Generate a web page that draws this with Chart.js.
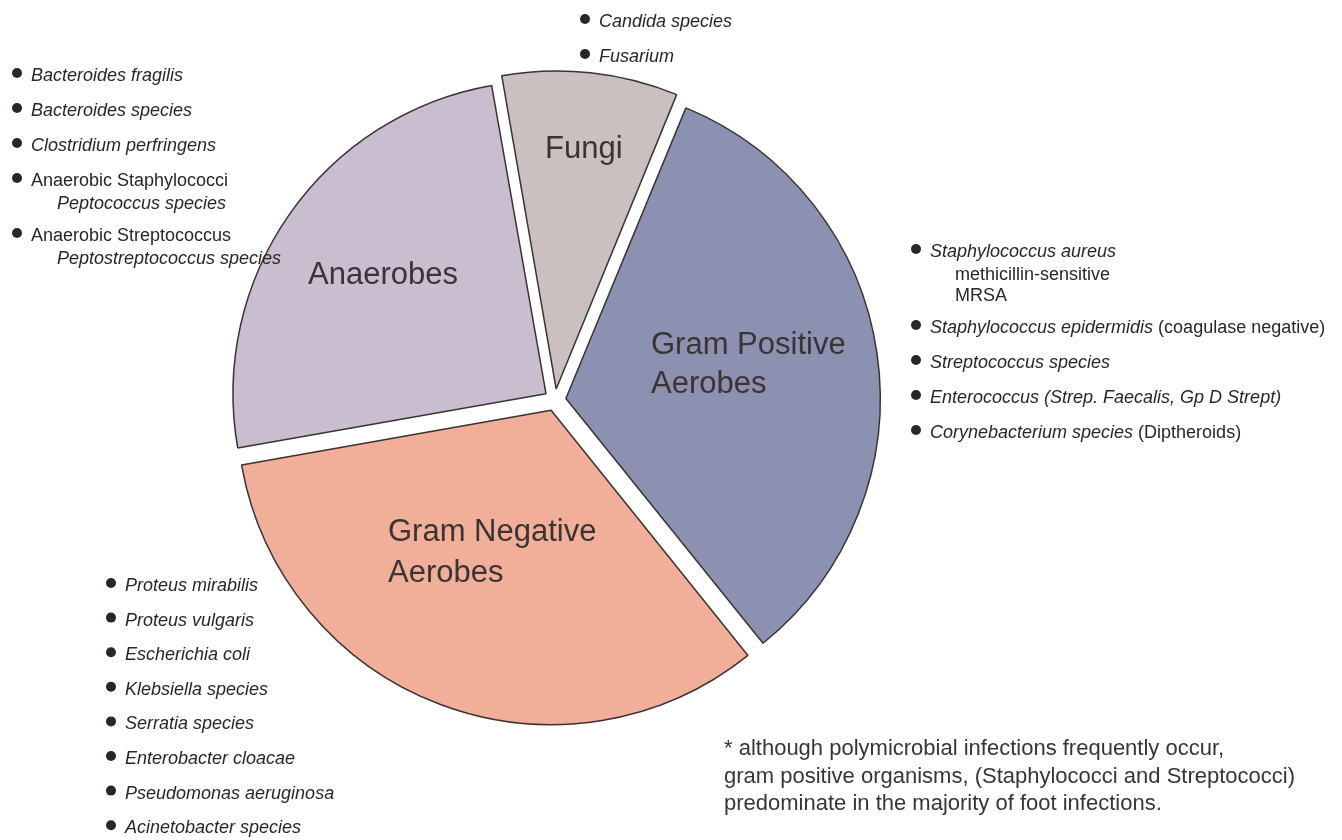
<!DOCTYPE html>
<html lang="en">
<head>
  <meta charset="UTF-8" />
  <title>Organisms in foot infections</title>
  <script src="https://cdn.jsdelivr.net/npm/chart.js"></script>
  <style>
    html, body { margin: 0; padding: 0; background: #fff; }
    #wrap { position: relative; width: 1342px; height: 840px; }
  </style>
</head>
<body>
  <div id="wrap"><canvas id="pie"></canvas></div>

  <script>
    const categories = ['Fungi', 'Gram Positive Aerobes', 'Gram Negative Aerobes', 'Anaerobes'];
    const shares = [9, 33, 33, 25];
    const sliceColors = ['#c9c0bf', '#8d91b1', '#f1ae98', '#c9bdd0'];

    // list lines: [text, italic]; first line of an item gets the bullet
    const fungiList = [
      [[['Candida species', 1]]],
      [[['Fusarium', 1]]]
    ];
    const anaerobeList = [
      [[['Bacteroides fragilis', 1]]],
      [[['Bacteroides species', 1]]],
      [[['Clostridium perfringens', 1]]],
      [[['Anaerobic Staphylococci', 0]], [['Peptococcus species', 1]]],
      [[['Anaerobic Streptococcus', 0]], [['Peptostreptococcus species', 1]]]
    ];
    const gramPosList = [
      [[['Staphylococcus aureus', 1]], [['methicillin-sensitive', 0]], [['MRSA', 0]]],
      [[['Staphylococcus epidermidis', 1], [' (coagulase negative)', 0]]],
      [[['Streptococcus species', 1]]],
      [[['Enterococcus (Strep. Faecalis, Gp D Strept)', 1]]],
      [[['Corynebacterium species', 1], [' (Diptheroids)', 0]]]
    ];
    const gramNegList = [
      [[['Proteus mirabilis', 1]]],
      [[['Proteus vulgaris', 1]]],
      [[['Escherichia coli', 1]]],
      [[['Klebsiella species', 1]]],
      [[['Serratia species', 1]]],
      [[['Enterobacter cloacae', 1]]],
      [[['Pseudomonas aeruginosa', 1]]],
      [[['Acinetobacter species', 1]]]
    ];
    const footnote = [
      '* although polymicrobial infections frequently occur,',
      'gram positive organisms, (Staphylococci and Streptococci)',
      'predominate in the majority of foot infections.'
    ];

    const FONT = '"Liberation Sans", Arial, sans-serif';
    const INK = '#3a3434';

    function drawParts(ctx, x, y, parts, size) {
      parts.forEach(([t, it]) => {
        ctx.font = (it ? 'italic ' : '') + size + 'px ' + FONT;
        ctx.fillText(t, x, y);
        x += ctx.measureText(t).width;
      });
    }

    function drawList(ctx, list, bx, tx, sx, y0, step) {
      let y = y0;
      list.forEach((item) => {
        item.forEach((line, j) => {
          if (j === 0) {
            ctx.beginPath();
            ctx.arc(bx, y - 8, 5, 0, Math.PI * 2);
            ctx.fill();
            drawParts(ctx, tx, y, line, 18);
          } else {
            y += j === 1 ? 23 : 21;
            drawParts(ctx, sx, y, line, 18);
          }
        });
        y += item.length > 1 ? 32 : step;
      });
    }

    const textPlugin = {
      id: 'notes',
      afterDraw(chart) {
        const ctx = chart.ctx;
        ctx.save();
        ctx.fillStyle = INK;
        ctx.textBaseline = 'alphabetic';
        ctx.textAlign = 'left';

        // slice labels
        ctx.font = '31px ' + FONT;
        ctx.fillText('Fungi', 545, 158);
        ctx.fillText('Anaerobes', 308, 284);
        ctx.fillText('Gram Positive', 651, 354);
        ctx.fillText('Aerobes', 651, 393);
        ctx.fillText('Gram Negative', 388, 541);
        ctx.fillText('Aerobes', 388, 582);

        // organism lists
        ctx.fillStyle = '#2b2626';
        drawList(ctx, fungiList, 585, 599, 599, 27, 35);
        drawList(ctx, anaerobeList, 17, 31, 57, 81, 35);
        drawList(ctx, gramPosList, 916, 930, 955, 257, 35);
        drawList(ctx, gramNegList, 111, 125, 125, 591, 34.6);

        // footnote
        ctx.fillStyle = INK;
        ctx.font = '22px ' + FONT;
        footnote.forEach((t, i) => ctx.fillText(t, 724, 755 + i * 27.5));
        ctx.restore();
      }
    };

    new Chart(document.getElementById('pie'), {
      type: 'pie',
      data: {
        labels: categories,
        datasets: [{
          data: shares,
          backgroundColor: sliceColors,
          borderColor: '#3a3333',
          borderWidth: 1.5,
          offset: 44
        }]
      },
      options: {
        responsive: true,
        maintainAspectRatio: false,
        animation: false,
        rotation: -10,
        radius: 313,
        layout: { padding: { left: 0, right: 232, top: 0, bottom: 40 } },
        plugins: {
          legend: { display: false },
          tooltip: { enabled: false }
        }
      },
      plugins: [textPlugin]
    });
  </script>
</body>
</html>
